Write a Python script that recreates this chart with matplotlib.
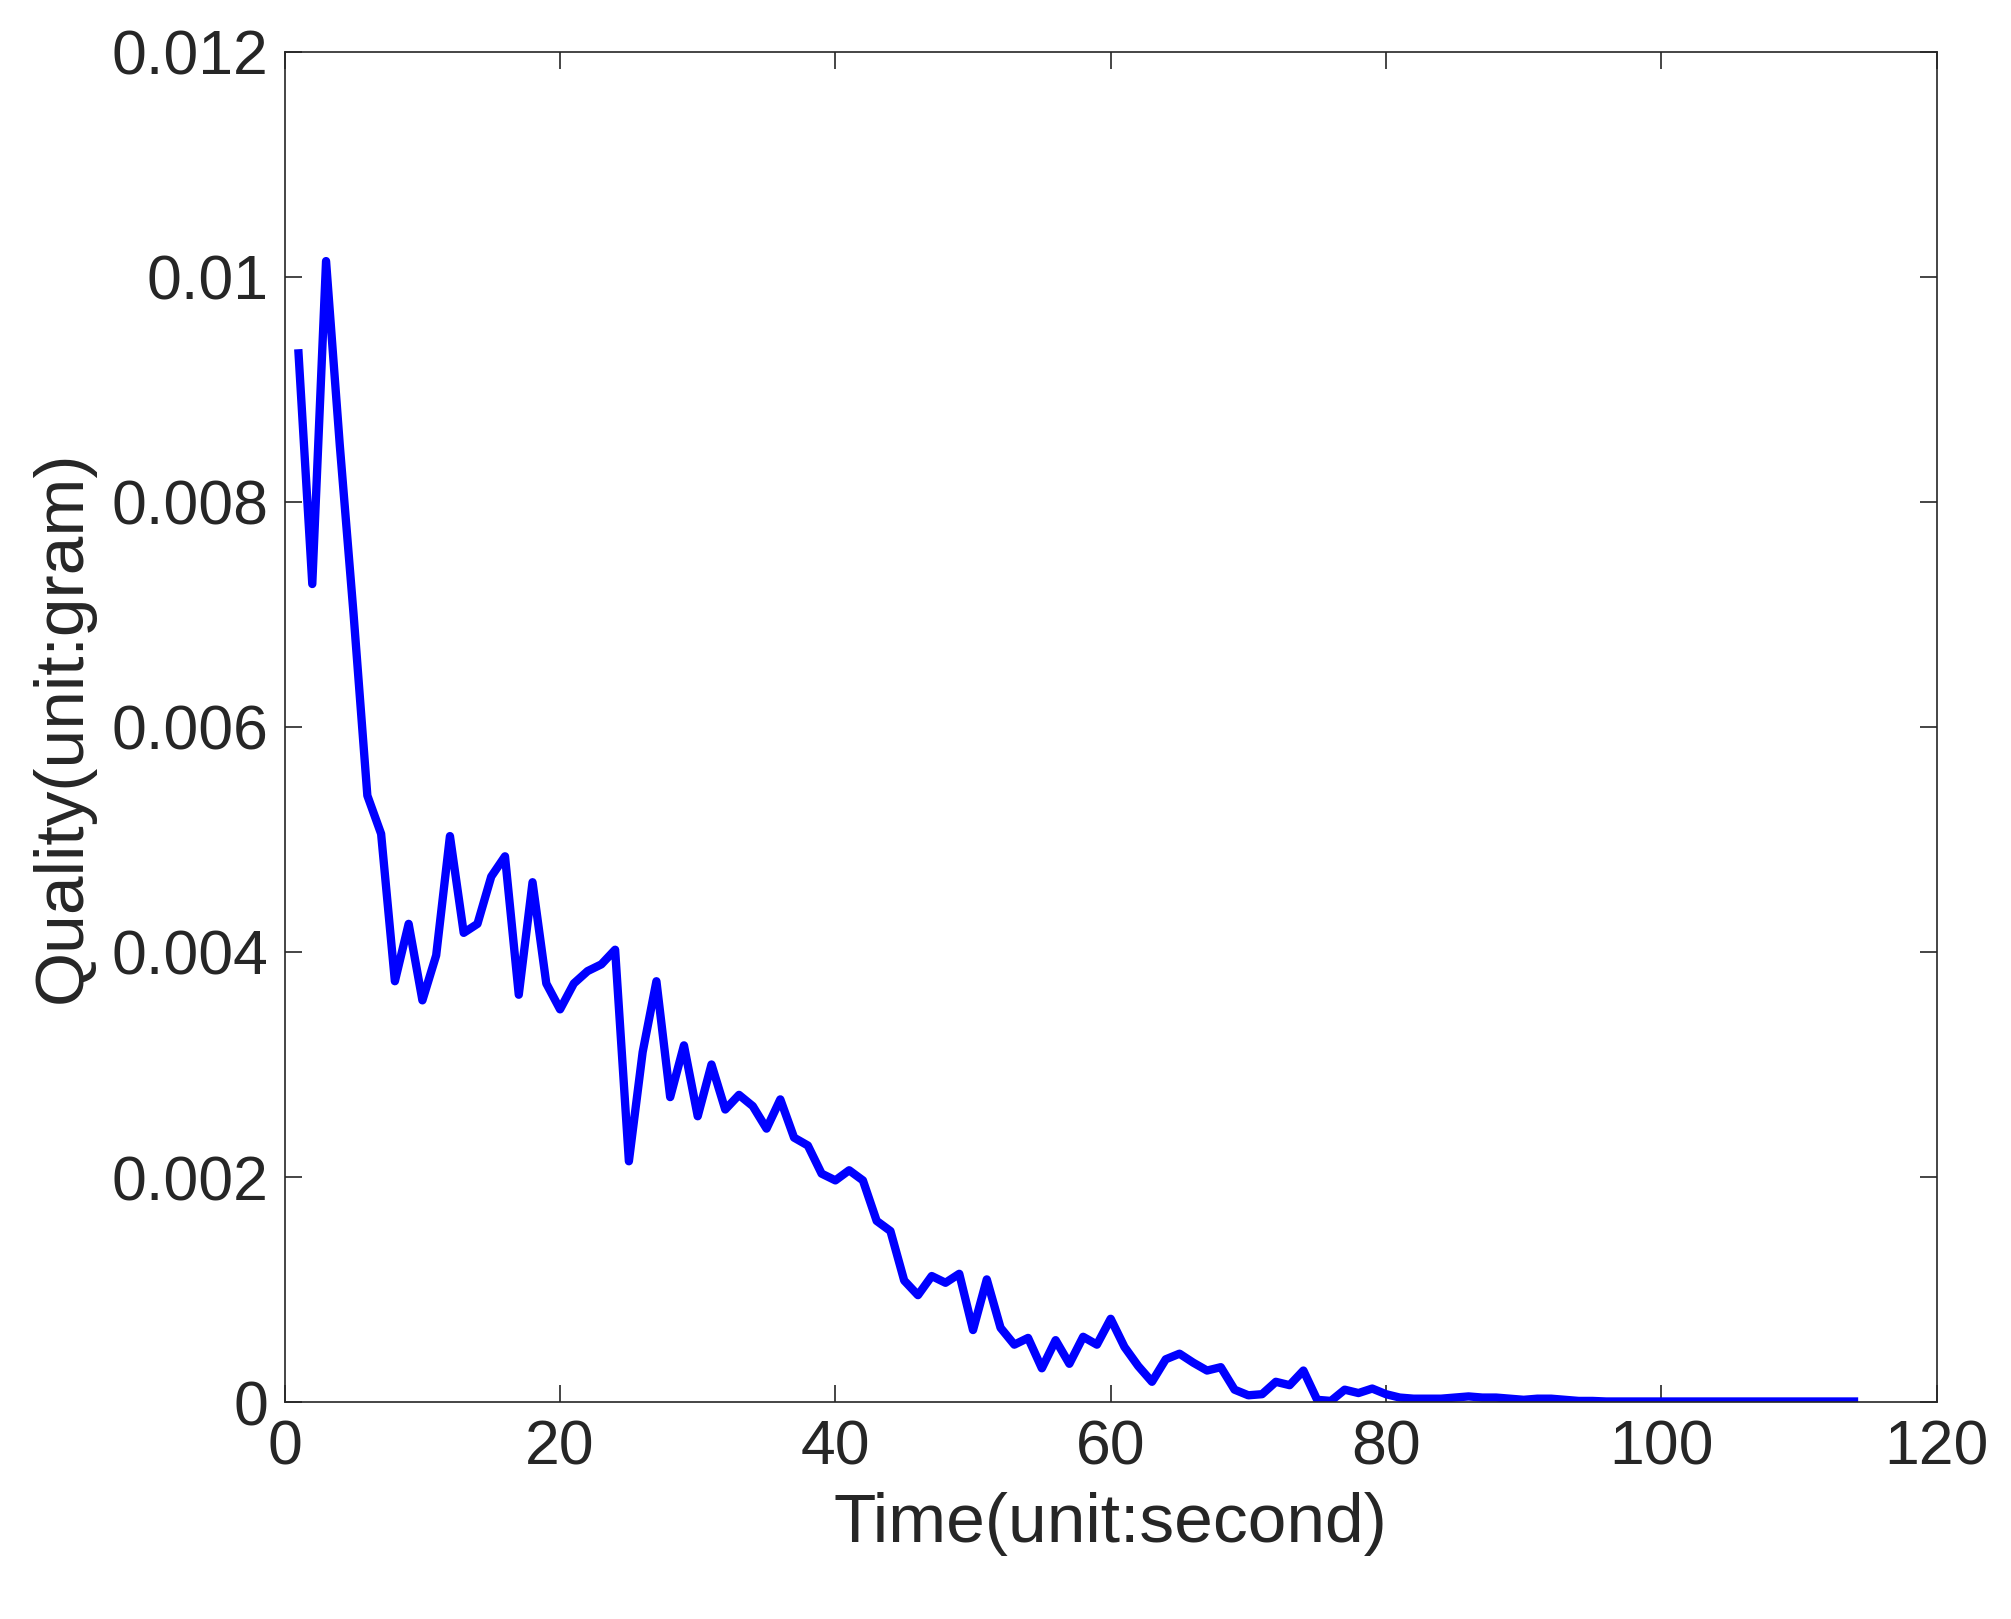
import matplotlib
matplotlib.use("Agg")
import matplotlib.pyplot as plt
import numpy as np

plt.rcParams['font.family'] = ['Liberation Sans', 'DejaVu Sans']

# values (unit: 1e-3 gram), t = 1..114 s
quality_e3 = [
    9.32, 7.27, 10.14, 8.5, 7.0, 5.39, 5.05, 3.74, 4.25, 3.57,
    3.97, 5.03, 4.17, 4.25, 4.67, 4.85, 3.62, 4.62, 3.72, 3.49,
    3.72, 3.83, 3.89, 4.02, 2.14, 3.11, 3.74, 2.71, 3.17, 2.54,
    3.00, 2.60, 2.73, 2.63, 2.43, 2.69, 2.35, 2.28, 2.03, 1.97,
    2.06, 1.97, 1.61, 1.52, 1.08, 0.95, 1.12, 1.06, 1.14, 0.64,
    1.09, 0.66, 0.51, 0.57, 0.30, 0.55, 0.34, 0.58, 0.51, 0.74,
    0.49, 0.32, 0.18, 0.38, 0.43, 0.35, 0.28, 0.31, 0.11, 0.06,
    0.07, 0.18, 0.15, 0.28, 0.02, 0.01, 0.11, 0.08, 0.12, 0.07,
    0.04, 0.03, 0.03, 0.03, 0.04, 0.05, 0.04, 0.04, 0.03, 0.02,
    0.03, 0.03, 0.02, 0.01, 0.01, 0.005, 0.005, 0.005, 0.005, 0.005,
    0.005, 0.005, 0.005, 0.005, 0.005, 0.005, 0.005, 0.005, 0.005, 0.005,
    0.005, 0.005, 0.005, 0.005,
]
time_s = np.arange(1, len(quality_e3) + 1)
quality = np.array(quality_e3) / 1000.0

fig = plt.figure(figsize=(20.11, 16.19), dpi=100)
ax = fig.add_axes([0.1416, 0.134, 0.8214, 0.834])
ax.plot(time_s, quality, color="#0000FF", linewidth=6)

ax.set_xlim(0, 120)
ax.set_ylim(0, 0.012)
ax.set_xticks([0, 20, 40, 60, 80, 100, 120])
ax.set_yticks([0, 0.002, 0.004, 0.006, 0.008, 0.01, 0.012])
ax.set_yticklabels(["0", "0.002", "0.004", "0.006", "0.008", "0.01", "0.012"])
ax.tick_params(direction="in", length=12, width=1.2, top=True, right=True,
               labelsize=45, colors="#262626", pad=12)
for s in ax.spines.values():
    s.set_linewidth(1.2)
    s.set_color("#262626")
ax.set_xlabel("Time(unit:second)", fontsize=50, color="#262626", labelpad=10)
ax.set_ylabel("Quality(unit:gram)", fontsize=50, color="#262626", labelpad=12)

fig.savefig("out.png", dpi=100)
